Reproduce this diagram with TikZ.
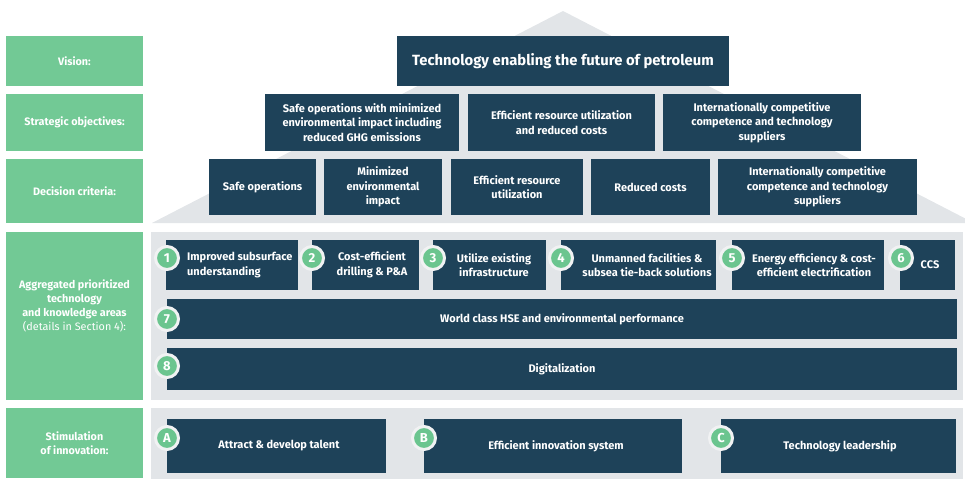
\documentclass[tikz,border=0pt]{standalone}
\usepackage{fontspec}
\setmainfont{Fira Sans}
\usetikzlibrary{calc}
\definecolor{navy}{HTML}{1E4259}
\definecolor{lgreen}{HTML}{72C995}
\definecolor{cgreen}{HTML}{6BC58F}
\definecolor{pgrey}{HTML}{E2E5E8}
\definecolor{ring}{HTML}{F1F2F3}
\tikzset{
 box/.style={fill=navy,text=white,font=\bfseries\fontsize{11}{14.5}\selectfont,align=center,inner sep=0pt},
 lbl/.style={fill=lgreen,text=white,font=\bfseries\fontsize{10.8}{14}\selectfont,align=center,inner sep=0pt},
 txt/.style={text=white,font=\bfseries\fontsize{11}{14.5}\selectfont,align=center,inner sep=0pt},
 lbltxt/.style={text=white,font=\bfseries\fontsize{10.8}{14}\selectfont,align=center,inner sep=0pt},
 num/.style={circle,fill=cgreen,draw=ring,line width=3pt,minimum size=23pt,inner sep=0pt,text=white,font=\bfseries\fontsize{13}{13}\selectfont},
}
\newcommand\rbox[7][]{\pgfmathsetmacro\rbw{#5-#3}\pgfmathsetmacro\rbh{#6-#4}%
 \node[#1,minimum width=\rbw pt,minimum height=\rbh pt] (#2) at ({(#3+#5)/2},{(#4+#6)/2}) {#7};}
\begin{document}
\begin{tikzpicture}[x=1pt,y=-1pt]
\useasboundingbox (0,0) rectangle (965,479);
\clip (0,0) rectangle (965,479);
% pyramid
\fill[pgrey] (563,11) -- (152,223) -- (974,223) -- cycle;
% lower panels
\fill[pgrey] (151,232) rectangle (963,400);
\fill[pgrey] (151,408) rectangle (963,479);
% green labels
\rbox[lbl]{vis}{6}{36}{143}{86}{Vision:}
\rbox[lbl]{so}{6}{94}{143}{151}{Strategic objectives:}
\rbox[lbl]{dc}{6}{159}{143}{223}{Decision criteria:}
\rbox[lbl]{agg}{6}{232}{143}{400}{}
\node[lbltxt] (aggt) at (74.5,306) {Aggregated prioritized\\technology\\and knowledge areas\\{\mdseries (details in Section 4):}};
\rbox[lbl]{stim}{6}{408}{143}{478}{Stimulation\\of innovation:}
% vision
\rbox[box,font=\bfseries\fontsize{14.8}{17}\selectfont]{v1}{397}{36}{729}{86}{Technology enabling the future of petroleum}
% strategic objectives
\rbox[box]{s1}{265}{94}{459}{151}{Safe operations with minimized\\environmental impact including\\reduced GHG emissions}
\rbox[box]{s2}{468}{94}{655}{151}{Efficient resource utilization\\and reduced costs}
\rbox[box]{s3}{663}{94}{861}{151}{Internationally competitive\\competence and technology\\suppliers}
% decision criteria
\rbox[box]{d1}{209}{159}{316}{215}{Safe operations}
\rbox[box]{d2}{324}{159}{442}{215}{Minimized\\environmental\\impact}
\rbox[box]{d3}{451}{159}{583}{215}{Efficient resource\\utilization}
\rbox[box]{d4}{591}{159}{710}{215}{Reduced costs}
\rbox[box]{d5}{718}{159}{917}{215}{Internationally competitive\\competence and technology\\suppliers}
% technology areas
\rbox[box]{a1}{166}{240}{298}{290}{}
\node[txt,align=left,anchor=west] (a1t) at (187,265) {Improved subsurface\\understanding};
\rbox[box]{a2}{312}{240}{419}{290}{}
\node[txt] (a2t) at (372,265) {Cost-efficient\\drilling \& P\&A};
\rbox[box]{a3}{433}{240}{546}{290}{}
\node[txt] (a3t) at (494,265) {Utilize existing\\infrastructure};
\rbox[box]{a4}{561}{240}{716}{290}{}
\node[txt] (a4t) at (647,265) {Unmanned facilities \&\\subsea tie-back solutions};
\rbox[box]{a5}{732}{240}{884}{290}{}
\node[txt] (a5t) at (814,265) {Energy efficiency \& cost-\\efficient electrification};
\rbox[box]{a6}{900}{240}{955}{290}{}
\node[txt] (a6t) at (930,265) {CCS};
\rbox[box]{a7}{167}{299}{957}{339}{World class HSE and environmental performance}
\rbox[box]{a8}{167}{348}{957}{390}{Digitalization}
% stimulation
\rbox[box]{sa}{167}{419}{386}{473}{}
\node[txt] (sat) at (279,446) {Attract \& develop talent};
\rbox[box]{sb}{424}{419}{682}{473}{}
\node[txt] (sbt) at (556,446) {Efficient innovation system};
\rbox[box]{sc}{721}{419}{956}{473}{}
\node[txt] (sct) at (840,446) {Technology leadership};
% number circles
\node[num] (n1) at (167,258) {1};
\node[num] (n2) at (312,258) {2};
\node[num] (n3) at (433,258) {3};
\node[num] (n4) at (561,258) {4};
\node[num] (n5) at (732,258) {5};
\node[num] (n6) at (901,258) {6};
\node[num] (n7) at (167,319) {7};
\node[num] (n8) at (167,366) {8};
\node[num] (nA) at (167,438) {A};
\node[num] (nB) at (424,438) {B};
\node[num] (nC) at (721,438) {C};
\end{tikzpicture}
\end{document}
